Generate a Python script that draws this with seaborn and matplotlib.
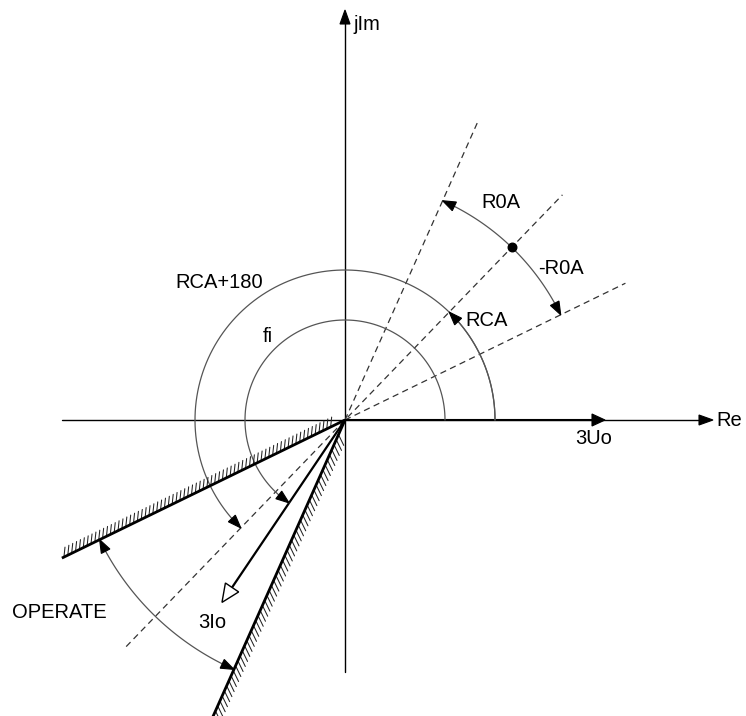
import numpy as np
import matplotlib
matplotlib.use("Agg")
import matplotlib.pyplot as plt
from matplotlib.patches import Polygon
import seaborn as sns

# angles in degrees, lengths in pixel units around the origin
RCA = 46
ROA = 20
ref_angles = [RCA, RCA + ROA, RCA - ROA]          # dashed reference lines
ref_lengths = [313, 326, 312]
boundary_angles = [RCA + 180 - ROA, RCA + 180 + ROA]   # operate sector limits
boundary_lengths = [315, 335]
phasor_names = ["3Uo", "3Io"]
phasor_angles = [0, 236]
phasor_lengths = [260, 220]

sns.set_theme(style="white")
plt.rcParams["font.family"] = ["Liberation Sans", "DejaVu Sans"]
plt.rcParams["text.color"] = "black"
FS = 14.5

fig = plt.figure(figsize=(7.46, 7.16), dpi=100)
ax = fig.add_axes([0, 0, 1, 1])


def pol(r, a):
    t = np.radians(a)
    return r * np.cos(t), r * np.sin(t)


def head(tip, direction, length=13, half=5, fill="black", lw=0.8):
    ux, uy = np.cos(np.radians(direction)), np.sin(np.radians(direction))
    bx, by = tip[0] - length * ux, tip[1] - length * uy
    pts = [tip, (bx - half * uy, by + half * ux), (bx + half * uy, by - half * ux)]
    ax.add_patch(Polygon(pts, closed=True, fc=fill, ec="black", lw=lw, zorder=5))


def arc(r, a0, a1, heads=(False, True), color="#555555", lw=0.9):
    t = np.linspace(a0, a1, 120)
    x, y = pol(r, t)
    sns.lineplot(x=x, y=y, sort=False, estimator=None, color=color, lw=lw, ax=ax)
    for at_end, (a_tip, sgn) in zip(heads, [(a0, np.sign(a0 - a1)), (a1, np.sign(a1 - a0))]):
        if not at_end:
            continue
        tip = pol(r, a_tip)
        back = pol(r, a_tip - sgn * np.degrees(13 / r))
        d = np.degrees(np.arctan2(tip[1] - back[1], tip[0] - back[0]))
        head(tip, d, length=13, half=4.8)


# axes
ax.plot([-283, 355], [0, 0], color="black", lw=1.0)
head((368, 0), 0, length=14, half=5)
ax.plot([0, 0], [-252, 397], color="black", lw=1.0)
head((0, 410), 90, length=14, half=5)
ax.text(371, 0, "Re", fontsize=FS, ha="left", va="center")
ax.text(8, 395, "jIm", fontsize=FS, ha="left", va="center")

# dashed reference lines (RCA line runs through the origin)
for a, L in zip(ref_angles, ref_lengths):
    r0 = -315 if a == RCA else 0
    x, y = pol(np.array([r0, L]), a)
    sns.lineplot(x=x, y=y, sort=False, estimator=None, color="#333333",
                 lw=0.9, linestyle=(0, (5, 3.5)), ax=ax)

# operate boundaries with hatching on the non-operate side
hatch_dirs = [84, 296]
hatch_step = [4.3, 5.5]
hatch_len = [10, 12]
for a, L, hd, st, hl in zip(boundary_angles, boundary_lengths, hatch_dirs, hatch_step, hatch_len):
    x, y = pol(np.array([0, L]), a)
    ax.plot(x, y, color="black", lw=2.0, solid_capstyle="butt", zorder=4)
    for r in np.arange(16, L, st):
        px, py = pol(r, a)
        qx, qy = px + hl * np.cos(np.radians(hd)), py + hl * np.sin(np.radians(hd))
        ax.plot([px, qx], [py, qy], color="#222222", lw=0.75, zorder=3)

# phasors
x, y = pol(np.array([0, phasor_lengths[0] - 12]), phasor_angles[0])
ax.plot(x, y, color="black", lw=1.5)
head(pol(phasor_lengths[0], phasor_angles[0]), phasor_angles[0], length=13, half=6)
ax.text(249, -18, phasor_names[0], fontsize=FS, ha="center", va="center")

x, y = pol(np.array([0, phasor_lengths[1] - 17]), phasor_angles[1])
ax.plot(x, y, color="black", lw=1.6)
head(pol(phasor_lengths[1], phasor_angles[1]), phasor_angles[1], length=18, half=8,
     fill="white", lw=1.0)
ax.text(-133, -202, phasor_names[1], fontsize=FS, ha="center", va="center")

# angle arcs
arc(150, 0, RCA)
arc(150, 0, RCA + 180)
arc(100, 0, phasor_angles[1])
arc(240, RCA, RCA + ROA)
arc(240, RCA, RCA - ROA)
arc(273, boundary_angles[0], boundary_angles[1], heads=(True, True))
dx, dy = pol(240, RCA)
ax.scatter([dx], [dy], s=38, color="black", zorder=6)

ax.text(142, 99, "RCA", fontsize=FS, ha="center", va="center")
ax.text(-126, 138, "RCA+180", fontsize=FS, ha="center", va="center")
ax.text(-77, 83, "fi", fontsize=FS, ha="center", va="center")
ax.text(156, 217, "R0A", fontsize=FS, ha="center", va="center")
ax.text(216, 151, "-R0A", fontsize=FS, ha="center", va="center")
ax.text(-333, -193, "OPERATE", fontsize=FS, ha="left", va="center")

ax.set_xlim(-345, 401)
ax.set_ylim(-296, 420)
ax.axis("off")
fig.savefig("out.png", dpi=100, facecolor="white")
